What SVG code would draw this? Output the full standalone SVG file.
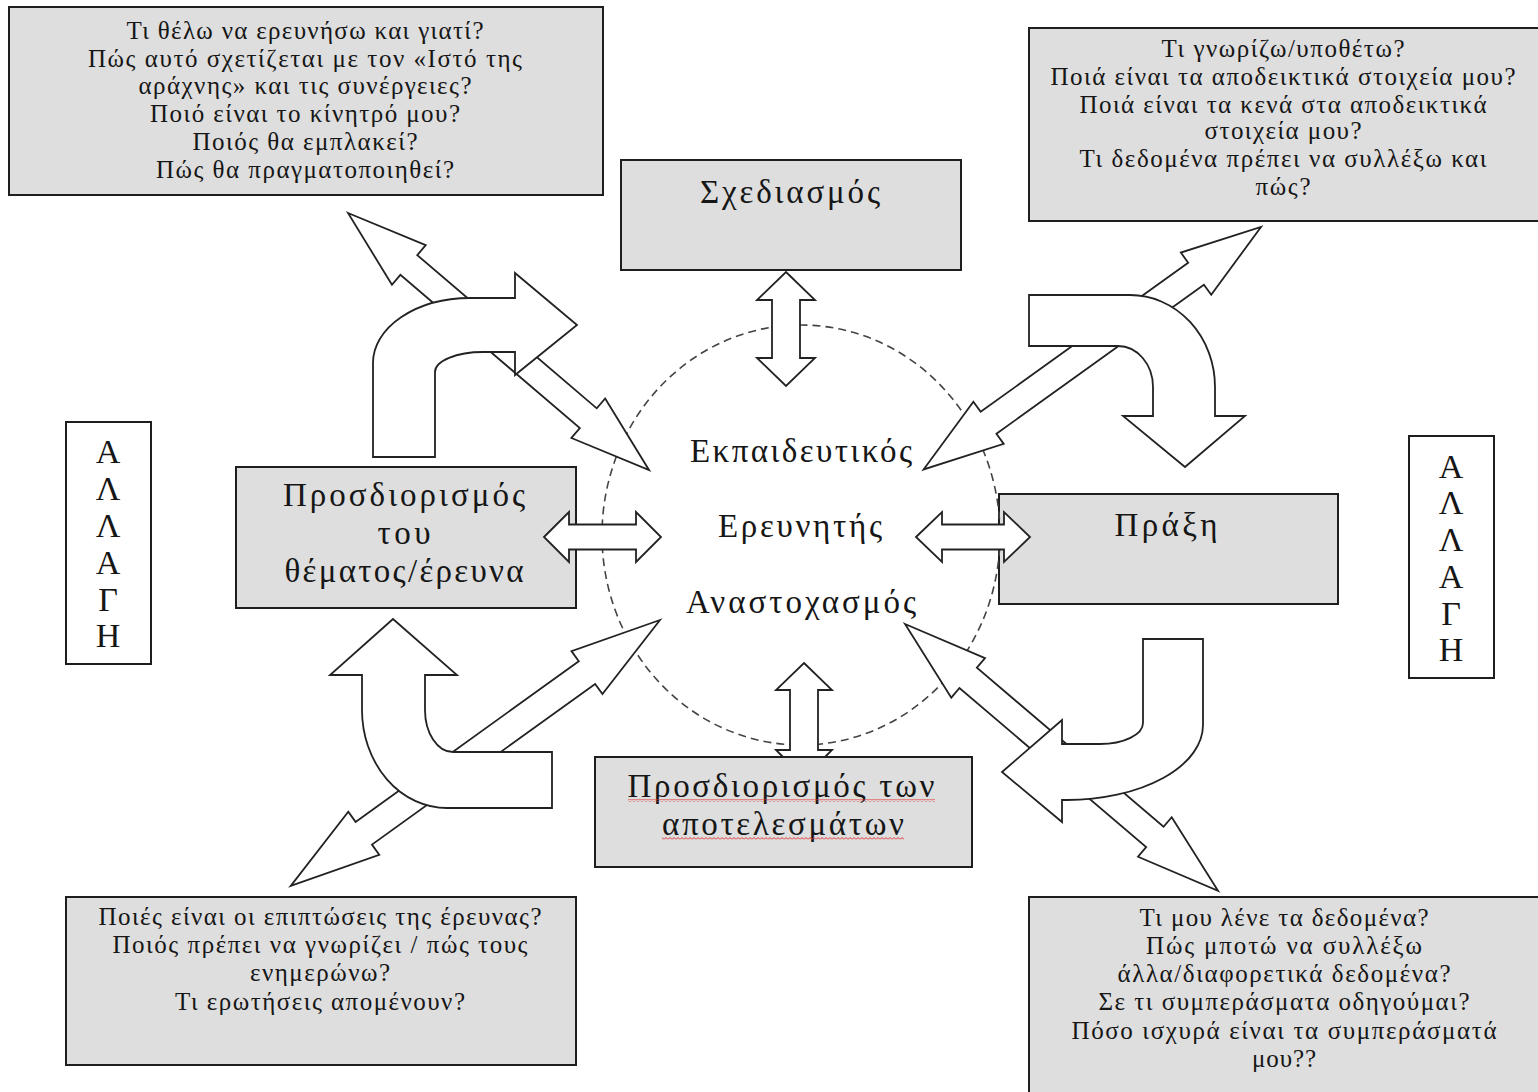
<svg xmlns="http://www.w3.org/2000/svg" width="1538" height="1092" viewBox="0 0 1538 1092">
<defs>
<style>
.box{fill:#dedede;stroke:#1e1e1e;stroke-width:2}
.wbox{fill:#fff;stroke:#1e1e1e;stroke-width:2}
.q{font-family:"Liberation Serif","Times New Roman",serif;font-size:25px;fill:#161616;text-anchor:middle}
.lbl{font-family:"Liberation Serif","Times New Roman",serif;font-size:33px;fill:#161616;text-anchor:middle}
.let{font-family:"Liberation Serif","Times New Roman",serif;font-size:34px;fill:#161616;text-anchor:middle}
.arr{fill:#fff;stroke:#222;stroke-width:1.8;stroke-linejoin:miter}
.cyc{fill:none;stroke:#444;stroke-width:1.6;stroke-dasharray:8 5}
</style>
<pattern id="wave" x="0" y="0" width="4" height="3" patternUnits="userSpaceOnUse">
<polyline points="0,2.5 2,0.5 4,2.5" fill="none" stroke="#e03030" stroke-width="1"/>
</pattern>
</defs>
<rect width="1538" height="1092" fill="#fff"/>

<g id="q-topleft">
<rect class="box" x="9" y="7" width="594" height="188"/>
<text class="q" x="305" y="39" textLength="357" lengthAdjust="spacing">Τι θέλω να ερευνήσω και γιατί?</text>
<text class="q" x="305" y="67" textLength="434" lengthAdjust="spacing">Πώς αυτό σχετίζεται με τον «Ιστό της</text>
<text class="q" x="305" y="94" textLength="333" lengthAdjust="spacing">αράχνης» και τις συνέργειες?</text>
<text class="q" x="305" y="122" textLength="310" lengthAdjust="spacing">Ποιό είναι το κίνητρό μου?</text>
<text class="q" x="305" y="150" textLength="225" lengthAdjust="spacing">Ποιός θα εμπλακεί?</text>
<text class="q" x="305" y="178" textLength="298" lengthAdjust="spacing">Πώς θα πραγματοποιηθεί?</text>
</g>

<g id="q-topright">
<rect class="box" x="1029" y="28" width="520" height="193"/>
<text class="q" x="1283" y="57" textLength="243" lengthAdjust="spacing">Τι γνωρίζω/υποθέτω?</text>
<text class="q" x="1283" y="85" textLength="465" lengthAdjust="spacing">Ποιά είναι τα αποδεικτικά στοιχεία μου?</text>
<text class="q" x="1283" y="113" textLength="407" lengthAdjust="spacing">Ποιά είναι τα κενά στα αποδεικτικά</text>
<text class="q" x="1283" y="139" textLength="157" lengthAdjust="spacing">στοιχεία μου?</text>
<text class="q" x="1283" y="167" textLength="407" lengthAdjust="spacing">Τι δεδομένα πρέπει να συλλέξω και</text>
<text class="q" x="1283" y="195" textLength="55" lengthAdjust="spacing">πώς?</text>
</g>

<g id="q-bottomleft">
<rect class="box" x="66" y="897" width="510" height="168"/>
<text class="q" x="320" y="925" textLength="443" lengthAdjust="spacing">Ποιές είναι οι επιπτώσεις της έρευνας?</text>
<text class="q" x="320" y="953" textLength="415" lengthAdjust="spacing">Ποιός πρέπει να γνωρίζει / πώς τους</text>
<text class="q" x="320" y="981" textLength="140" lengthAdjust="spacing">ενημερώνω?</text>
<text class="q" x="320" y="1010" textLength="290" lengthAdjust="spacing">Τι ερωτήσεις απομένουν?</text>
</g>

<g id="q-bottomright">
<rect class="box" x="1029" y="897" width="520" height="210"/>
<text class="q" x="1284" y="926" textLength="289" lengthAdjust="spacing">Τι μου λένε τα δεδομένα?</text>
<text class="q" x="1284" y="954" textLength="276" lengthAdjust="spacing">Πώς μποτώ να συλλέξω</text>
<text class="q" x="1284" y="982" textLength="333" lengthAdjust="spacing">άλλα/διαφορετικά δεδομένα?</text>
<text class="q" x="1284" y="1010" textLength="371" lengthAdjust="spacing">Σε τι συμπεράσματα οδηγούμαι?</text>
<text class="q" x="1284" y="1039" textLength="425" lengthAdjust="spacing">Πόσο ισχυρά είναι τα συμπεράσματά</text>
<text class="q" x="1284" y="1067" textLength="64" lengthAdjust="spacing">μου??</text>
</g>

<g id="n-sxediasmos">
<rect class="box" x="621" y="160" width="340" height="110"/>
<text class="lbl" x="790" y="203" textLength="180" lengthAdjust="spacing">Σχεδιασμός</text>
</g>

<g id="n-thema">
<rect class="box" x="236" y="467" width="340" height="141"/>
<text class="lbl" x="404" y="506" textLength="242" lengthAdjust="spacing">Προσδιορισμός</text>
<text class="lbl" x="404" y="544" textLength="53" lengthAdjust="spacing">του</text>
<text class="lbl" x="404" y="582" textLength="239" lengthAdjust="spacing">θέματος/έρευνα</text>
</g>

<g id="n-praxi">
<rect class="box" x="999" y="494" width="339" height="110"/>
<text class="lbl" x="1166" y="536" textLength="103" lengthAdjust="spacing">Πράξη</text>
</g>

<g id="n-apotelesmata">
<rect class="box" x="595" y="757" width="377" height="110"/>
<text class="lbl" x="781" y="797" textLength="307" lengthAdjust="spacing">Προσδιορισμός των</text>
<text class="lbl" x="783" y="835" textLength="242" lengthAdjust="spacing">αποτελεσμάτων</text>
<rect x="628" y="799" width="307" height="3" fill="url(#wave)"/>
<rect x="662" y="837" width="242" height="3" fill="url(#wave)"/>
</g>

<g id="n-allagi-left">
<rect class="wbox" x="66" y="422" width="85" height="242"/>
<text class="let" x="108" y="463">Α</text>
<text class="let" x="108" y="500">Λ</text>
<text class="let" x="108" y="537">Λ</text>
<text class="let" x="108" y="574">Α</text>
<text class="let" x="108" y="611">Γ</text>
<text class="let" x="108" y="647">Η</text>
</g>

<g id="n-allagi-right">
<rect class="wbox" x="1409" y="436" width="85" height="242"/>
<text class="let" x="1451" y="478">Α</text>
<text class="let" x="1451" y="514">Λ</text>
<text class="let" x="1451" y="551">Λ</text>
<text class="let" x="1451" y="588">Α</text>
<text class="let" x="1451" y="625">Γ</text>
<text class="let" x="1451" y="661">Η</text>
</g>

<g id="n-cycle">
<ellipse class="cyc" cx="801" cy="535" rx="199" ry="210"/>
</g>

<g id="connectors">
<path class="arr" d="M786,272 L815,300 L800,300 L800,358 L815,358 L786,386 L757,358 L772,358 L772,300 L757,300 Z"/>
<path class="arr" d="M804,663 L832,690 L818,690 L818,750 L832,750 L825,757 L783,757 L776,750 L790,750 L790,690 L776,690 Z"/>
<path class="arr" d="M544,537 L569,512 L569,524.5 L636,524.5 L636,512 L661,537 L636,562 L636,549.5 L569,549.5 L569,562 Z"/>
<path class="arr" d="M916,537 L942,512 L942,524.5 L1004,524.5 L1004,512 L1030,537 L1004,562 L1004,549.5 L942,549.5 L942,562 Z"/>
<path class="arr" transform="translate(348,213) rotate(40.5)" d="M0,0 L80,-26 L80,-13 L316,-13 L316,-26 L396,0 L316,26 L316,13 L80,13 L80,26 Z"/>
<path class="arr" transform="translate(1261,227) rotate(144.3)" d="M0,0 L80,-26 L80,-13.5 L335.5,-13.5 L335.5,-26 L415.5,0 L335.5,26 L335.5,13.5 L80,13.5 L80,26 Z"/>
<path class="arr" transform="translate(660,620) rotate(144.25)" d="M0,0 L90,-26.5 L90,-14 L365,-14 L365,-26.5 L455,0 L365,26.5 L365,14 L90,14 L90,26.5 Z"/>
<path class="arr" transform="translate(905,624) rotate(40.44)" d="M0,0 L83,-26 L83,-13.4 L328.3,-13.4 L328.3,-26 L411.3,0 L328.3,26 L328.3,13.4 L83,13.4 L83,26 Z"/>
<path class="arr" d="M373,457 L373,363 A97,65 0 0 1 470,298 L515,298 L515,273 L577,325 L515,375 L515,352 L483,352 A48,20 0 0 0 435,372 L435,457 Z"/>
<path class="arr" d="M1029,295 L1130,295 A85,92 0 0 1 1215,387 L1215,416 L1245,416 L1185,467 L1123,416 L1153,416 L1153,387 A35,41 0 0 0 1118,346 L1029,346 Z"/>
<path class="arr" d="M552,752 L453,752 A28,42 0 0 1 425,710 L425,675 L457,675 L393,619 L330,675 L362,675 L362,710 A85,98 0 0 0 447,808 L552,808 Z"/>
<path class="arr" d="M1143,639 L1203,639 L1203,725 A136,75 0 0 1 1067,800 L1062,800 L1062,822 L1002,772 L1062,720 L1062,744 L1100,744 A43,21 0 0 0 1143,723 Z"/>
</g>

<g id="n-center">
<text class="lbl" x="801" y="462" textLength="222" lengthAdjust="spacing">Εκπαιδευτικός</text>
<text class="lbl" x="800" y="537" textLength="164" lengthAdjust="spacing">Ερευνητής</text>
<text class="lbl" x="801" y="613" textLength="230" lengthAdjust="spacing">Αναστοχασμός</text>
</g>
</svg>
